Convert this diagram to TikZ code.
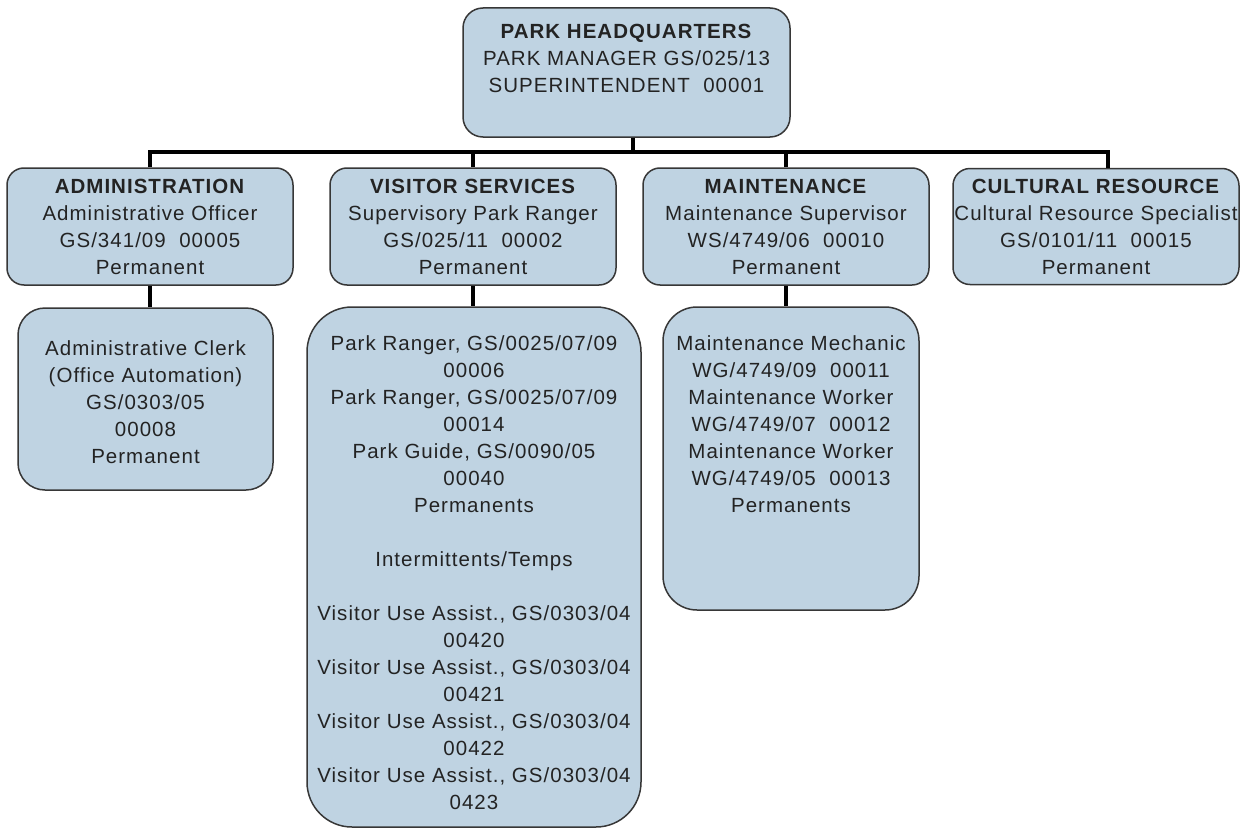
\documentclass[tikz,border=0pt]{standalone}
\usepackage{fontspec}
\setmainfont{Liberation Sans}[LetterSpace=5]
\definecolor{boxfill}{RGB}{191,211,226}
\definecolor{boxline}{RGB}{55,55,55}
\definecolor{txtcol}{RGB}{35,35,35}
\tikzset{
  orgbox/.style={draw=boxline, fill=boxfill, line width=1.5pt, inner sep=0pt},
  orgtxt/.style={anchor=north, align=center, inner sep=0pt, text=txtcol,
    font=\fontsize{20.5}{27}\selectfont},
  conn/.style={draw=black, line width=3.5pt}
}
\begin{document}
\begin{tikzpicture}[x=1pt,y=-1pt]
\path[use as bounding box, fill=white] (0,0) rectangle (1249,832);
\coordinate (bus) at (0,152);

% boxes
\node[orgbox, minimum width=327pt, minimum height=129pt, rounded corners=20pt] (hq) at (626.5,72.5) {};
\node[orgbox, minimum width=286pt, minimum height=117pt, rounded corners=17pt] (adm) at (150,226.5) {};
\node[orgbox, minimum width=286pt, minimum height=117pt, rounded corners=17pt] (vis) at (473,226.5) {};
\node[orgbox, minimum width=286pt, minimum height=117pt, rounded corners=17pt] (mnt) at (786,226.5) {};
\node[orgbox, minimum width=286pt, minimum height=116pt, rounded corners=17pt] (cul) at (1096,226.5) {};
\node[orgbox, minimum width=255pt, minimum height=182pt, rounded corners=27pt] (clerk) at (145.5,399) {};
\node[orgbox, minimum width=334pt, minimum height=520pt, rounded corners=45pt] (vsub) at (474,567) {};
\node[orgbox, minimum width=256pt, minimum height=303pt, rounded corners=34pt] (msub) at (791,458.5) {};

% connectors
\draw[conn] ([xshift=6.5pt]hq.south) -- ([xshift=6.5pt]hq.south |- bus);
\draw[conn] (adm.north) -- (adm.north |- bus) -- ([xshift=12pt]cul.north |- bus) -- ([xshift=12pt]cul.north);
\draw[conn] (vis.north) -- (vis.north |- bus);
\draw[conn] (mnt.north) -- (mnt.north |- bus);
\draw[conn] (adm.south) -- (adm.south |- clerk.north);
\draw[conn] (vis.south) -- (vis.south |- vsub.north);
\draw[conn] (mnt.south) -- (mnt.south |- msub.north);

% texts
\node[orgtxt] (hqt) at (626.5,23.5) {\textbf{PARK HEADQUARTERS}\\PARK MANAGER GS/025/13\\SUPERINTENDENT\ \ 00001};
\node[orgtxt] (admt) at (150,178.5) {\textbf{ADMINISTRATION}\\Administrative Officer\\GS/341/09\ \ 00005\\Permanent};
\node[orgtxt] (vist) at (473,178.5) {\textbf{VISITOR SERVICES}\\Supervisory Park Ranger\\GS/025/11\ \ 00002\\Permanent};
\node[orgtxt] (mntt) at (786,178.5) {\textbf{MAINTENANCE}\\Maintenance Supervisor\\WS/4749/06\ \ 00010\\Permanent};
\node[orgtxt] (cult) at (1096,178.5) {\textbf{CULTURAL RESOURCE}\\Cultural Resource Specialist\\GS/0101/11\ \ 00015\\Permanent};
\node[orgtxt] (clerkt) at (145.5,340.5) {Administrative Clerk\\(Office Automation)\\GS/0303/05\\00008\\Permanent};
\node[orgtxt] (vsubt) at (474,335.5) {Park Ranger, GS/0025/07/09\\00006\\Park Ranger, GS/0025/07/09\\00014\\Park Guide, GS/0090/05\\00040\\Permanents\\[27pt]Intermittents/Temps\\[27pt]Visitor Use Assist., GS/0303/04\\00420\\Visitor Use Assist., GS/0303/04\\00421\\Visitor Use Assist., GS/0303/04\\00422\\Visitor Use Assist., GS/0303/04\\0423};
\node[orgtxt] (msubt) at (791,335.5) {Maintenance Mechanic\\WG/4749/09\ \ 00011\\Maintenance Worker\\WG/4749/07\ \ 00012\\Maintenance Worker\\WG/4749/05\ \ 00013\\Permanents};
\end{tikzpicture}
\end{document}
